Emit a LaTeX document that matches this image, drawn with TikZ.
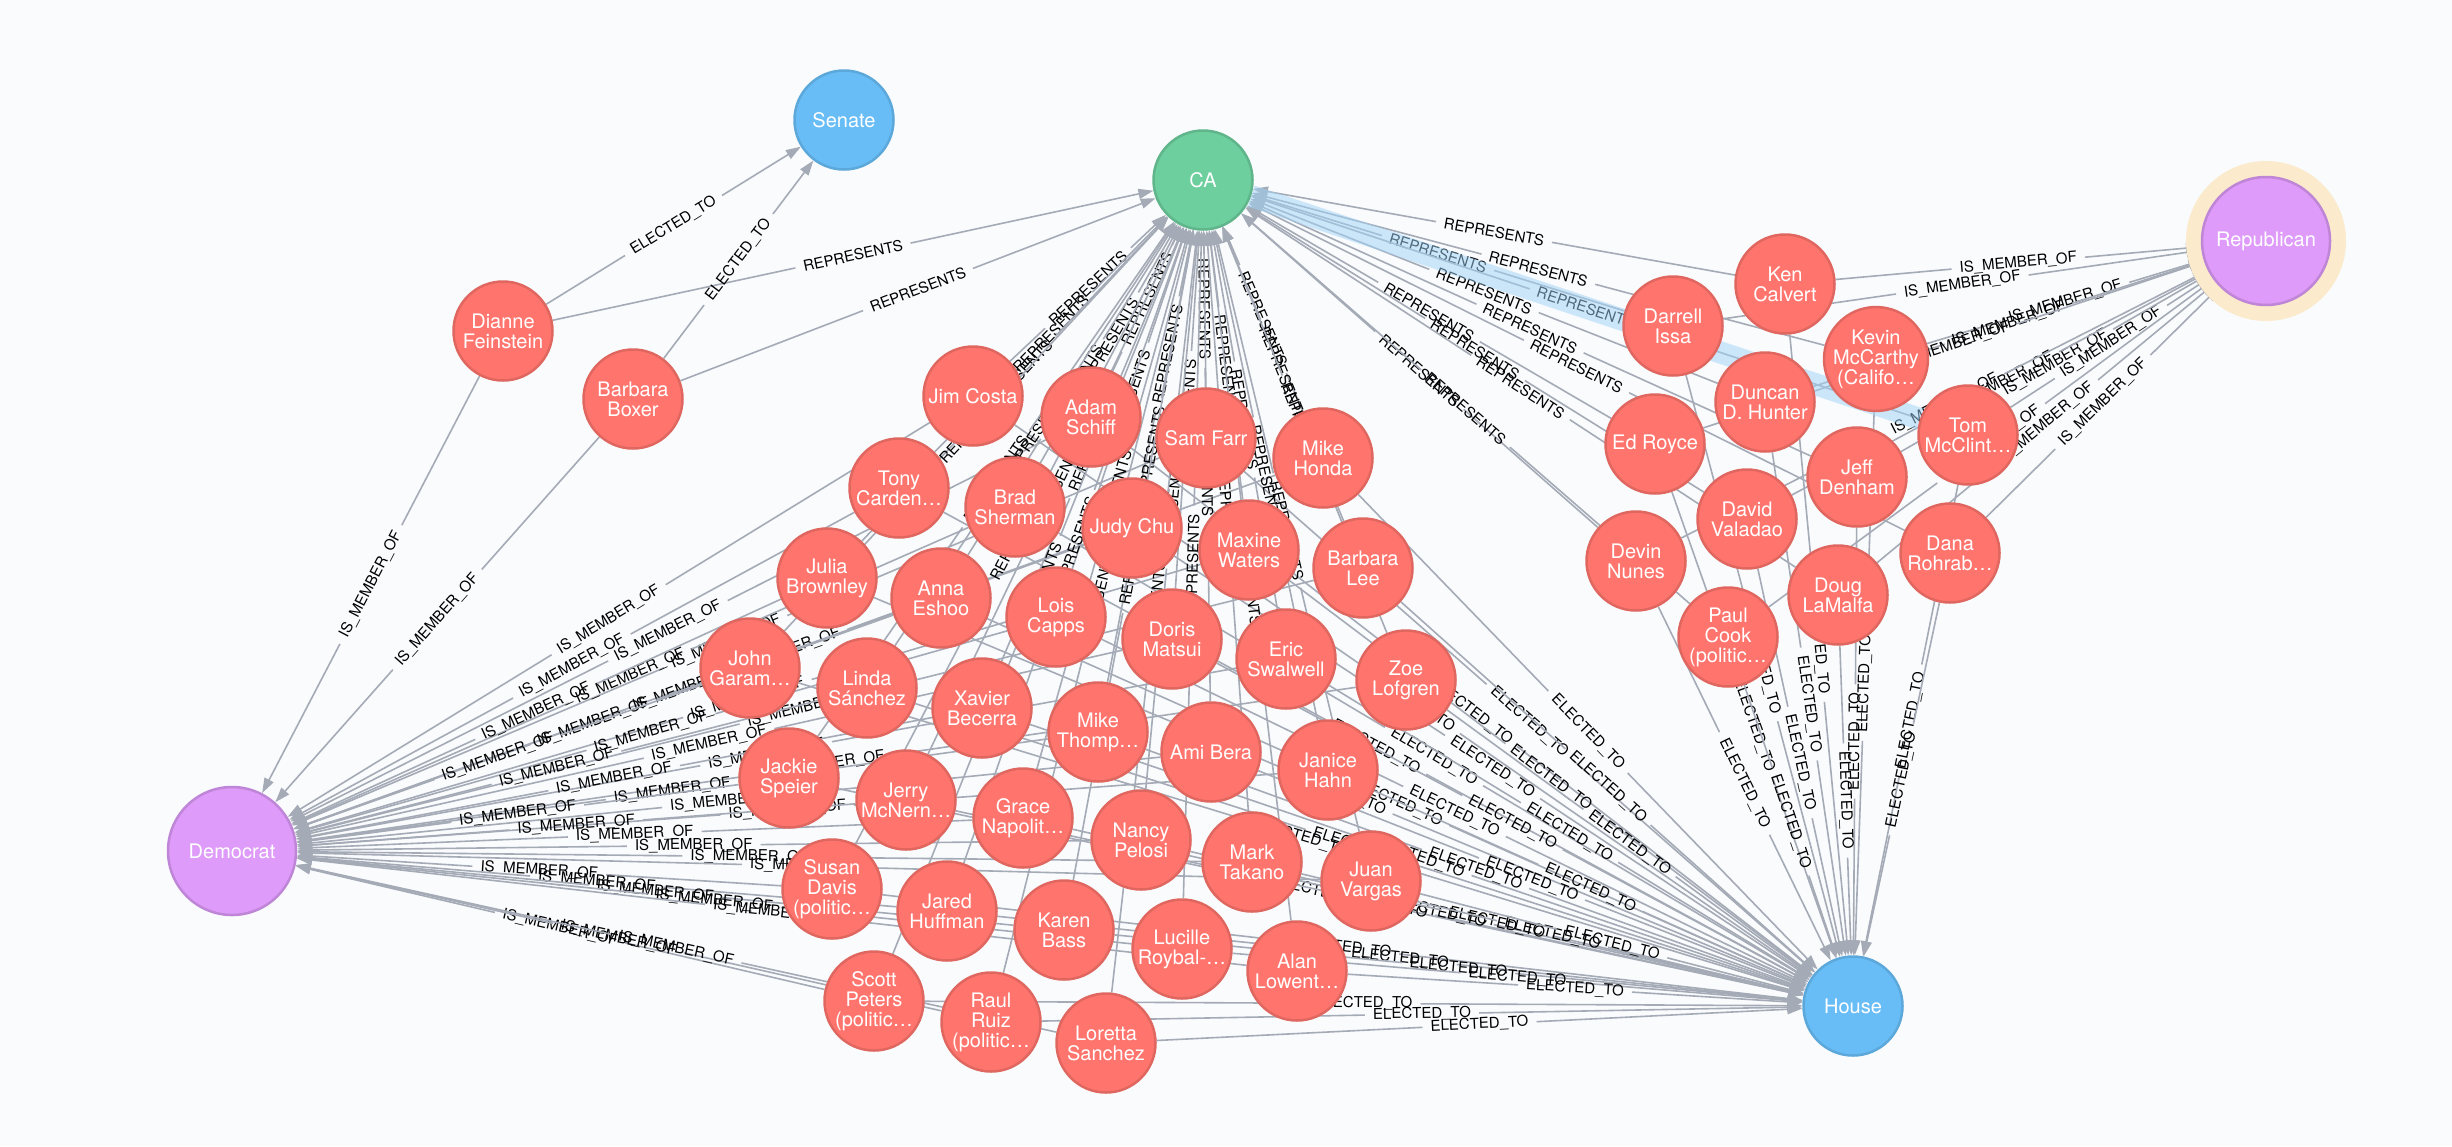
\documentclass[tikz,border=0pt]{standalone}
\usepackage{fontspec}
\setmainfont{TeX Gyre Heros}
\usetikzlibrary{arrows.meta}
\definecolor{bgcol}{HTML}{F9FBFD}
\definecolor{relgray}{HTML}{A5ABB6}
\definecolor{personfill}{HTML}{FF756E}
\definecolor{persondraw}{HTML}{E06760}
\definecolor{chamberfill}{HTML}{68BDF6}
\definecolor{chamberdraw}{HTML}{5CA8DB}
\definecolor{statefill}{HTML}{6DCE9E}
\definecolor{statedraw}{HTML}{60B58B}
\definecolor{partyfill}{HTML}{DE9BF9}
\definecolor{partydraw}{HTML}{BF85D6}
\definecolor{halocol}{HTML}{FBEACB}
\definecolor{hilitecol}{HTML}{9FD3F7}
\pgfdeclarelayer{back}
\pgfdeclarelayer{edges}
\pgfdeclarelayer{hilite}
\pgfsetlayers{back,edges,hilite,main}
\tikzstyle{nodetext} = [circle, inner sep=0pt, text=white, align=center, line width=2.5pt, font=\fontsize{20}{20}\selectfont]
\tikzstyle{person} = [nodetext, draw=persondraw, fill=personfill, minimum size=99pt]
\tikzstyle{chamber} = [nodetext, draw=chamberdraw, fill=chamberfill, minimum size=99pt]
\tikzstyle{state} = [nodetext, draw=statedraw, fill=statefill, minimum size=99pt]
\tikzstyle{party} = [nodetext, draw=partydraw, fill=partyfill, minimum size=128pt]
\tikzstyle{rel} = [draw=relgray, line width=1.6pt]
\tikzstyle{relarrow} = [rel, -{Triangle[length=15pt, width=10pt]}]
\tikzstyle{rellabel} = [midway, sloped, font=\fontsize{15}{15}\selectfont, inner xsep=8pt, inner ysep=0pt]

\begin{document}
\begin{tikzpicture}[x=1pt, y=-1pt]
    \useasboundingbox (0,0) rectangle (2452,1146);
    \begin{pgfonlayer}{back}
        \fill[bgcol] (0,0) rectangle (2452,1146);
    \end{pgfonlayer}

    % Fixed nodes.
    \node (Senate) [chamber] at (844,120) {Senate};
    \node (House) [chamber] at (1853,1006) {House};
    \node (CA) [state] at (1203,180) {CA};
    \node (Democrat) [party] at (232,851) {Democrat};
    \node (halo) [circle, fill=halocol, minimum size=160pt] at (2266,241) {};
    \node (Republican) [party] at (2266,241) {Republican};

    % People, each with its three relationships.
    \foreach \nm/\px/\py/\txt/\party/\chamber in {%
        dfein/503/331/{Dianne\\Feinstein}/Democrat/Senate,
        bboxer/633/399/{Barbara\\Boxer}/Democrat/Senate,
        jcosta/973/396/{Jim Costa}/Democrat/House,
        aschiff/1091/417/{Adam\\Schiff}/Democrat/House,
        sfarr/1206/438/{Sam Farr}/Democrat/House,
        mhonda/1323/458/{Mike\\Honda}/Democrat/House,
        tcard/899/488/{Tony\\Carden…}/Democrat/House,
        bsherman/1015/507/{Brad\\Sherman}/Democrat/House,
        jchu/1132/528/{Judy Chu}/Democrat/House,
        mwaters/1249/550/{Maxine\\Waters}/Democrat/House,
        blee/1363/568/{Barbara\\Lee}/Democrat/House,
        jbrown/827/578/{Julia\\Brownley}/Democrat/House,
        aeshoo/941/598/{Anna\\Eshoo}/Democrat/House,
        lcapps/1056/617/{Lois\\Capps}/Democrat/House,
        dmatsui/1172/639/{Doris\\Matsui}/Democrat/House,
        eswal/1286/659/{Eric\\Swalwell}/Democrat/House,
        zlof/1406/680/{Zoe\\Lofgren}/Democrat/House,
        jgaram/750/668/{John\\Garam…}/Democrat/House,
        lsanchez/867/688/{Linda\\Sánchez}/Democrat/House,
        xbec/982/708/{Xavier\\Becerra}/Democrat/House,
        mthomp/1098/732/{Mike\\Thomp…}/Democrat/House,
        abera/1211/752/{Ami Bera}/Democrat/House,
        jhahn/1328/770/{Janice\\Hahn}/Democrat/House,
        jspeier/789/778/{Jackie\\Speier}/Democrat/House,
        jmcn/906/800/{Jerry\\McNern…}/Democrat/House,
        gnap/1023/818/{Grace\\Napolit…}/Democrat/House,
        npelosi/1141/840/{Nancy\\Pelosi}/Democrat/House,
        mtakano/1252/862/{Mark\\Takano}/Democrat/House,
        jvargas/1371/881/{Juan\\Vargas}/Democrat/House,
        sdavis/832/889/{Susan\\Davis\\(politic…}/Democrat/House,
        jhuff/947/911/{Jared\\Huffman}/Democrat/House,
        kbass/1064/930/{Karen\\Bass}/Democrat/House,
        lroybal/1182/949/{Lucille\\Roybal-…}/Democrat/House,
        alowen/1297/971/{Alan\\Lowent…}/Democrat/House,
        speters/874/1001/{Scott\\Peters\\(politic…}/Democrat/House,
        rruiz/991/1022/{Raul\\Ruiz\\(politic…}/Democrat/House,
        lorsanchez/1106/1043/{Loretta\\Sanchez}/Democrat/House,
        kcalvert/1785/284/{Ken\\Calvert}/Republican/House,
        dissa/1673/326/{Darrell\\Issa}/Republican/House,
        kmcc/1876/359/{Kevin\\McCarthy\\(Califo…}/Republican/House,
        dhunter/1765/402/{Duncan\\D. Hunter}/Republican/House,
        tmcc/1968/435/{Tom\\McClint…}/Republican/House,
        eroyce/1655/444/{Ed Royce}/Republican/House,
        jdenham/1857/477/{Jeff\\Denham}/Republican/House,
        dvaladao/1747/519/{David\\Valadao}/Republican/House,
        dnunes/1636/561/{Devin\\Nunes}/Republican/House,
        drohr/1950/553/{Dana\\Rohrab…}/Republican/House,
        dlamalfa/1838/595/{Doug\\LaMalfa}/Republican/House,
        pcook/1728/637/{Paul\\Cook\\(politic…}/Republican/House} {%
        \node (\nm) [person] at (\px,\py) {\txt};
        \begin{pgfonlayer}{edges}
            \path (\nm) -- (CA) node (rep \nm) [rellabel] {REPRESENTS};
            \draw [rel] (\nm) -- (rep \nm);
            \draw [relarrow] (rep \nm) -- (CA);
            \path (\nm) -- (\party) node (mem \nm) [rellabel] {IS\_MEMBER\_OF};
            \draw [rel] (\nm) -- (mem \nm);
            \draw [relarrow] (mem \nm) -- (\party);
            \path (\nm) -- (\chamber) node (elec \nm) [rellabel] {ELECTED\_TO};
            \draw [rel] (\nm) -- (elec \nm);
            \draw [relarrow] (elec \nm) -- (\chamber);
        \end{pgfonlayer}
    }

    % Selected relationship.
    \begin{pgfonlayer}{hilite}
        \draw [hilitecol, opacity=0.5, line width=22pt] (tmcc) -- (CA);
    \end{pgfonlayer}
\end{tikzpicture}
\end{document}
